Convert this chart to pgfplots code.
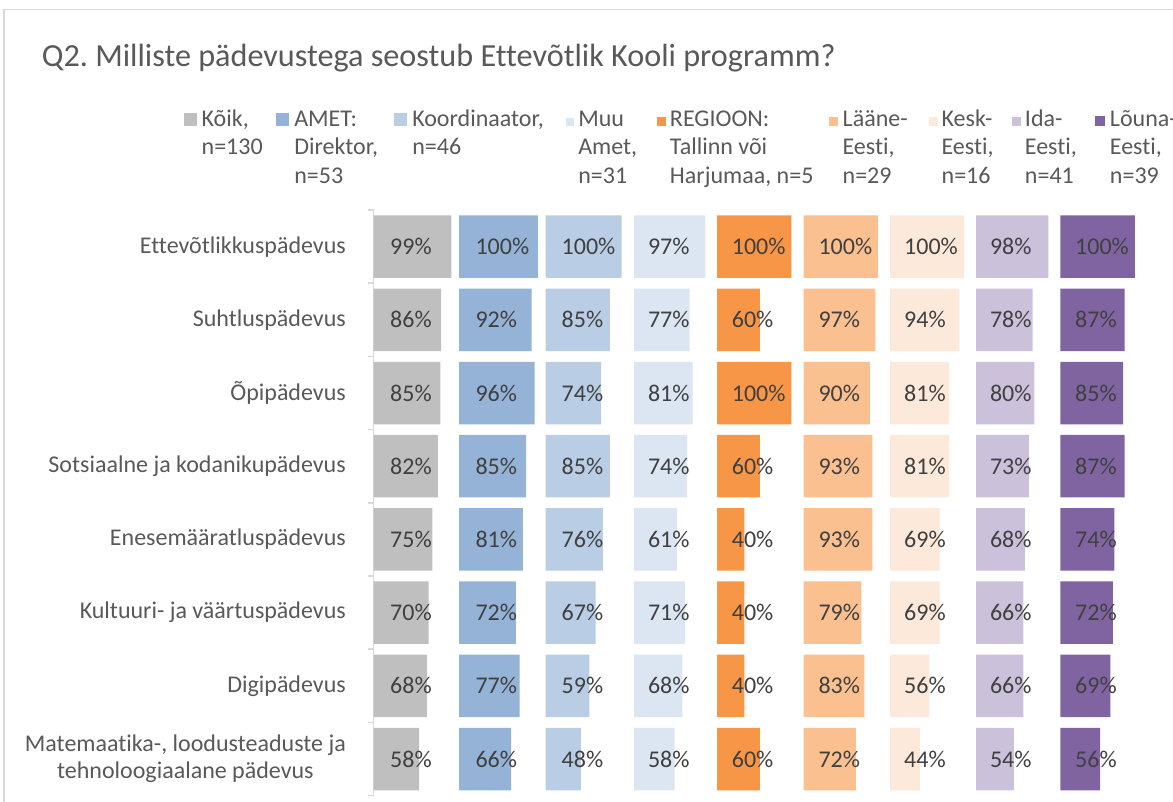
\documentclass[border=0pt]{standalone}
\usepackage{fontspec}
\setmainfont{Carlito}[Ligatures=NoCommon]
\usepackage{pgfplots}
\usepackage{pgfplotstable}
\pgfplotsset{compat=1.18}

\definecolor{cKoik}{HTML}{BFBFBF}
\definecolor{cAmet}{HTML}{95B3D7}
\definecolor{cKoord}{HTML}{B9CDE5}
\definecolor{cMuu}{HTML}{DCE6F2}
\definecolor{cReg}{HTML}{F79646}
\definecolor{cLaane}{HTML}{FAC090}
\definecolor{cKesk}{HTML}{FDE9D9}
\definecolor{cIda}{HTML}{CCC1DA}
\definecolor{cLouna}{HTML}{8064A2}
\definecolor{txtgrey}{HTML}{595959}
\definecolor{lbltext}{HTML}{404040}
\definecolor{axisgrey}{HTML}{D9D9D9}

\newcommand{\titlefont}{\fontsize{32.2bp}{38bp}\selectfont}
\newcommand{\catfont}{\fontsize{24bp}{27bp}\selectfont}
\newcommand{\lgfont}{\fontsize{24bp}{28.5bp}\selectfont}
\newcommand{\lblfont}{\fontsize{24bp}{28bp}\selectfont}
% legend entry: #1 cell width before text, #2 square size, #3 colour, #4 text width, #5 text
\newcommand{\lgent}[5]{\parbox[t]{#1bp}{\textcolor{#3}{\rule[0.5bp]{#2bp}{#2bp}}}\parbox[t]{#4bp}{\lgfont\raggedright #5}}

\pgfplotstableread{
y c1  c2  c3  c4  c5  c6  c7  c8  c9
0 99  100 100 97  100 100 100 98  100
1 86  92  85  77  60  97  94  78  87
2 85  96  74  81  100 90  81  80  85
3 82  85  85  74  60  93  81  73  87
4 75  81  76  61  40  93  69  68  74
5 70  72  67  71  40  79  69  66  72
6 68  77  59  68  40  83  56  66  69
7 58  66  48  58  60  72  44  54  56
}\data

\pgfplotsset{
  panel/.style={scale only axis, height=585.6bp, ymin=-0.5, ymax=7.5,
    y dir=reverse, xmax=100, anchor=south west},
  labels/.style={draw=none, mark=none, point meta=explicit,
    nodes near coords={\pgfmathprintnumber[assume math mode=true,fixed,precision=0]{\pgfplotspointmeta}\%},
    every node near coord/.append style={anchor=west, inner sep=0pt, font=\lblfont, text=lbltext}},
}

% #1 x-left, #2 xmin, #3 width, #4 label x, #5 column, #6 colour
\newcommand{\panel}[6]{%
\begin{axis}[panel, hide axis, at={(#1bp,6.4bp)}, xmin=#2, width=#3bp]
\addplot[xbar, fill=#6, draw=none, bar width=62.5bp] table[x=#5, y=y]{\data};
\addplot[labels] table[x expr=#4, y=y, meta=#5]{\data};
\end{axis}}

\begin{document}
\begin{tikzpicture}
\useasboundingbox (0bp,0bp) rectangle (1173bp,802bp);
\fill[white] (0bp,0bp) rectangle (1173bp,802bp);
\draw[axisgrey, line width=1.5bp] (4bp,-5bp) -- (4bp,792.7bp) -- (1180bp,792.7bp);
\node[anchor=base west, inner sep=0pt, font=\titlefont, text=txtgrey] at (41.7bp,735bp)
  {Q2.\ Milliste pädevustega seostub Ettevõtlik Kooli programm?};

\begin{axis}[panel, at={(373.5bp,6.4bp)}, xmin=0, width=78.6bp,
  axis x line=none, axis y line*=left,
  y axis line style={draw=axisgrey, line width=1.5bp, -},
  ytick={0,...,7},
  yticklabels={Ettevõtlikkuspädevus, Suhtluspädevus, Õpipädevus,
    Sotsiaalne ja kodanikupädevus, Enesemääratluspädevus,
    Kultuuri- ja väärtuspädevus, Digipädevus,
    {Matemaatika-, loodusteaduste ja\\tehnoloogiaalane pädevus}},
  major tick length=0pt,
  extra y ticks={-0.5,0.5,...,7.5}, extra y tick labels={},
  extra y tick style={major tick length=6bp, tick align=outside,
    major tick style={draw=axisgrey, line width=1.5bp}},
  yticklabel style={font=\catfont, text=txtgrey, align=center, inner sep=0pt, xshift=-27.5bp},
  legend columns=9, legend cell align=left,
  legend image code/.code={},
  legend style={draw=none, fill=none, inner sep=0pt, outer sep=0pt,
    column sep=0pt, row sep=0pt,
    at={(-2.4148,1.1713)}, anchor=north west,
    nodes={inner sep=0pt, outer sep=0pt, font=\lgfont, text=txtgrey},
    cells={anchor=base west}},
]
\addplot[xbar, fill=cKoik, draw=none, bar width=62.5bp, legend image code/.code={}]
  table[x=c1, y=y]{\data};
\addlegendentry{\lgent{18}{13}{cKoik}{74.6}{Kõik,\\n=130}}
\addplot[labels, forget plot] table[x expr=21, y=y, meta=c1]{\data};

\addlegendimage{legend image code/.code={}}
\addlegendentry{\lgent{18}{13}{cAmet}{100}{AMET:\\Direktor,\\n=53}}
\addlegendimage{legend image code/.code={}}
\addlegendentry{\lgent{18}{13}{cKoord}{154}{Koordinaator,\\n=46}}
\addlegendimage{legend image code/.code={}}
\addlegendentry{\lgent{12}{8}{cMuu}{78.7}{Muu\\Amet,\\n=31}}
\addlegendimage{legend image code/.code={}}
\addlegendentry{\lgent{13}{9}{cReg}{158.7}{REGIOON:\\Tallinn või\\Harjumaa, n=5}}
\addlegendimage{legend image code/.code={}}
\addlegendentry{\lgent{14}{9}{cLaane}{86}{Lääne-\\Eesti,\\n=29}}
\addlegendimage{legend image code/.code={}}
\addlegendentry{\lgent{13}{9}{cKesk}{70.3}{Kesk-\\Eesti,\\n=16}}
\addlegendimage{legend image code/.code={}}
\addlegendentry{\lgent{13}{9}{cIda}{70}{Ida-\\Eesti,\\n=41}}
\addlegendimage{legend image code/.code={}}
\addlegendentry{\lgent{15}{10}{cLouna}{70}{Lõuna-\\Eesti,\\n=39}}
\end{axis}

\panel{459.2}{0}{78.6}{20.5}{c2}{cAmet}
\panel{545.7}{3.4}{75.9}{23.5}{c3}{cKoord}
\panel{634}{6.4}{73.6}{24}{c4}{cMuu}
\panel{717}{5.3}{74.4}{24}{c5}{cReg}
\panel{803.7}{5.7}{74.1}{24.3}{c6}{cLaane}
\panel{890}{5.9}{74.0}{23.7}{c7}{cKesk}
\panel{976}{5.9}{74.0}{23.5}{c8}{cIda}
\panel{1060.3}{5.2}{74.5}{23.9}{c9}{cLouna}
\end{tikzpicture}
\end{document}
